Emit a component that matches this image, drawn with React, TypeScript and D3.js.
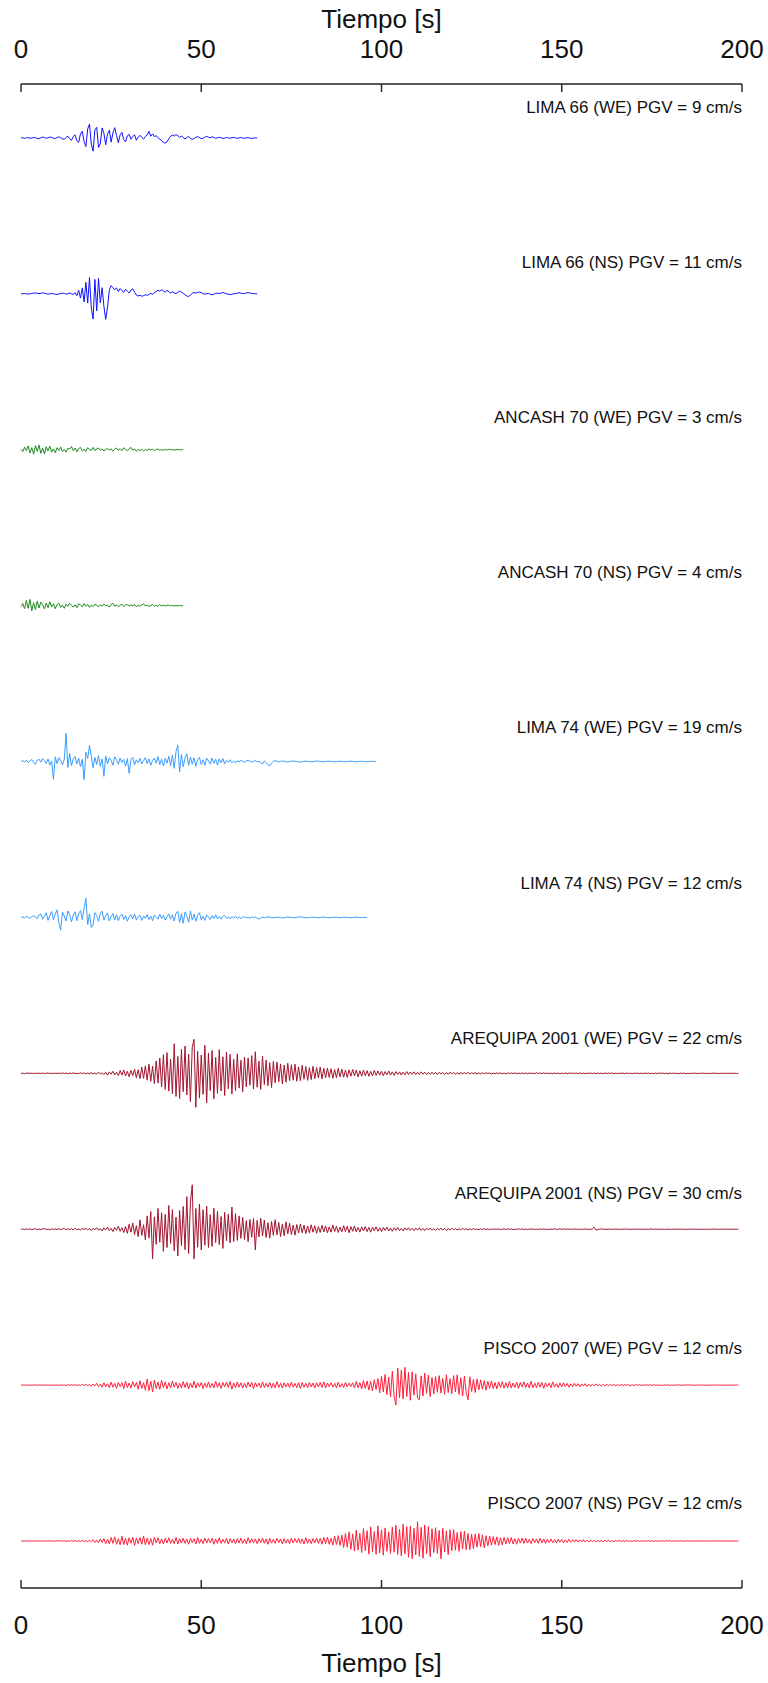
import React from 'react';
import * as d3 from 'd3';

// sampling step of every record, seconds
const DT = 0.5;

const TICKS = [0, 50, 100, 150, 200];
const TRACE_NAMES = [
  'LIMA 66 (WE)', 'LIMA 66 (NS)', 'ANCASH 70 (WE)', 'ANCASH 70 (NS)', 'LIMA 74 (WE)',
  'LIMA 74 (NS)', 'AREQUIPA 2001 (WE)', 'AREQUIPA 2001 (NS)', 'PISCO 2007 (WE)', 'PISCO 2007 (NS)',
];
const PGV = [9, 11, 3, 4, 19, 12, 22, 30, 12, 12];

// velocity records (cm/s)
const LIMA66_WE = [
  0, 0.2, -0.3, 0.1, 0.3, -0.2, 0, 0.4, 0.2, -0.3,
  -0.5, 0.1, 0.6, 0.3, -0.2, 0.2, 0.7, 0.4, -0.1, -0.4,
  0.3, 0.8, 0.2, -0.6, -0.9, 0.4, 1.2, -0.5, -1.6, 1.0,
  2.2, -1.8, -3.0, 2.8, 4.5, -2.4, -5.8, 6.1, 9.4, -4.2,
  -8.9, 5.5, 7.2, -6.4, -3.8, 6.8, 3.1, -4.5, 2.6, 5.2,
  -2.8, 3.4, 7.0, 1.8, -3.2, 2.1, 3.8, -1.2, -2.6, 1.5,
  2.4, -0.8, 0.9, 2.2, -1.5, 0.6, 1.8, 0.4, -0.7, 1.1,
  2.0, 4.6, 1.2, 2.8, 0.9, 1.6, 0.2, -0.8, -1.8, -2.9,
  -3.4, -2.6, -0.5, 1.2, 2.0, 1.4, 2.3, 1.6, 0.5, 1.2,
  0.4, -0.6, 0.3, 1.0, -0.2, -0.9, -0.4, 0.5, 0.9, 0.3,
  -0.4, -0.2, 0.6, 1.1, 0.5, 0.2, 0.8, 0.4, -0.2, 0.1,
  0.5, 0.2, -0.3, -0.1, 0.3, 0.1, -0.2, 0.2, 0.4, 0.1,
  -0.2, 0.1, 0.3, 0.0, -0.2, 0.1, 0.2, -0.1, -0.3, 0.0, 0.1, 0,
];
const LIMA66_NS = [
  0, 0.1, 0.2, 0.1, -0.1, 0, 0.3, 0.5, 0.6, 0.4,
  0.2, 0.4, 0.7, 0.5, 0.1, -0.2, 0, 0.3, 0.1, -0.3,
  -0.4, -0.1, 0.2, 0.5, 0.3, -0.2, 0.1, 0.6, 0.2, -0.5,
  0.8, -1.2, 2.4, -2.8, 4.0, -5.5, 7.8, -6.2, 11.0, -9.5,
  -17.0, 9.8, -11.5, 10.5, -6.0, 4.2, -8.5, -17.2, -9.0, 2.5,
  5.6, 4.2, 2.8, 4.0, 1.6, 3.6, 2.2, 1.0, 3.2, 1.8,
  0.6, 2.6, 3.4, 1.2, -0.8, -1.4, -0.9, -1.6, -1.2, -0.6,
  -1.0, -0.4, 0.3, -0.2, 0.8, 1.6, 2.5, 1.8, 2.8, 2.0,
  1.2, 2.4, 1.6, 0.6, 1.4, 0.8, 0.2, 1.1, 1.8, 1.2,
  0.3, -0.6, -1.4, -1.8, -0.8, 0.4, 0.9, 0.6, 1.0, 1.2,
  0.8, 0.2, -0.2, 0.1, 0.4, -0.3, -0.6, -0.2, 0.3, 0.5,
  0.2, 0.6, 0.9, 0.5, 0.1, -0.2, -0.5, -0.3, 0.1, 0.2,
  0.4, 0.8, 0.5, 0.2, 0.3, 0.6, 0.9, 0.6, 0.3, 0.1, 0.2, 0,
];
const ANCASH70_WE = [
  0.4, -1.2, 1.8, -0.6, 2.6, -2.2, 1.4, -3.0, 2.8, -1.0,
  3.2, -2.4, 1.2, -2.8, 2.0, -0.8, 2.4, -1.6, 0.6, -2.0,
  1.4, -0.4, 1.8, -1.2, 0.2, -1.6, 1.0, 0.4, 2.2, -0.6,
  1.2, -1.4, 0.8, 1.6, -0.8, 0.4, -1.2, 1.4, 0.2, -0.4,
  1.6, -0.6, 0.8, 1.2, -0.4, 0.6, -0.8, 0.2, 1.0, -0.2,
  0.6, -1.0, 0.4, 1.2, -0.4, 0.8, -0.6, 1.4, 0.2, -0.6,
  0.8, 1.6, -0.4, 0.6, -1.0, 0.2, -0.6, 0.4, -0.8, 0.2,
  -0.4, 0.6, -0.2, 0.4, -0.6, 0.2, 0.5, -0.3, 0.1, -0.4,
  0.3, -0.2, 0.4, -0.1, 0.2, -0.3, 0.1, 0.2, -0.1, 0.1,
  0,
];
const ANCASH70_NS = [
  -0.6, 1.4, -2.0, 3.6, -1.8, 4.2, -3.4, 2.0, -2.6, 3.0,
  -1.6, 2.4, 0.6, -2.2, 1.8, -1.4, 2.6, -0.8, 1.2, -2.0,
  0.8, 1.6, -1.2, 0.4, -1.8, 1.0, -0.4, 1.6, 0.2, -1.0,
  0.6, -1.4, 1.2, 0.4, -0.8, 1.4, -0.2, 0.8, -1.2, 0.4,
  -0.6, 1.0, 0.2, -0.8, 0.6, -0.4, 1.2, -0.2, 0.4, -1.0,
  0.8, 1.6, -0.4, 0.6, -0.8, 0.2, 1.0, -0.6, 0.4, 0.8,
  -0.4, 0.6, -0.2, 0.8, -0.6, 0.3, -0.4, 0.6, 1.2, -0.2,
  0.4, -0.6, 0.2, 0.8, -0.4, 0.3, -0.5, 0.6, -0.2, 0.4,
  -0.3, 0.2, 0.4, -0.2, 0.1, -0.3, 0.2, -0.1, 0.2, -0.1,
  0,
];
const LIMA74_WE = [
  0, 0.6, -0.4, 1.0, -0.8, 0.4, 1.4, -0.6, -1.8, 0.8,
  1.6, -0.4, 2.0, 0.6, -1.2, 1.8, -2.4, 0.4, -12.0, 3.2,
  -1.4, 2.6, 0.8, -2.2, 1.4, 19.0, -4.0, 5.6, -2.8, 1.8,
  3.4, -1.6, 2.2, -3.4, 1.6, -12.2, 6.4, 2.0, 11.0, 3.6,
  -4.2, 2.8, -2.0, 4.0, -3.2, 1.8, -10.0, 3.8, -1.6, 2.6,
  0.8, -2.4, 3.2, 1.2, -1.8, 2.4, -0.6, 1.6, -3.2, 2.0,
  -8.0, 1.4, 2.8, -2.2, 1.2, -0.8, 2.2, -1.6, 0.6, 2.6,
  -1.4, 1.8, -2.6, 0.8, 2.4, -1.2, 3.4, -2.0, 1.6, -3.0,
  2.2, -1.0, 3.6, -2.8, 4.4, -4.6, 6.8, 11.0, -7.0, 4.8,
  -3.6, 2.4, 5.2, -2.6, 3.0, -1.8, 2.6, -3.2, 1.4, 2.8,
  -2.0, 1.2, -2.6, 2.2, 0.6, -1.8, 2.4, -1.2, 1.6, -2.4,
  1.8, -0.8, 2.0, -1.6, 0.8, -0.4, 1.2, -0.8, 0.4, -1.0,
  0.6, -0.2, 0.8, 0.2, -0.6, 0.4, 0.9, 0.3, -0.4, 0.2,
  0.6, -0.3, 0.2, -0.8, -1.6, 0.4, -0.6, -2.2, -3.0, -1.0,
  0.2, 0.6, 0.3, -0.2, 0.1, 0.4, 0.2, -0.1, -0.3, 0,
  0.2, 0.4, 0.2, 0, -0.2, -0.3, -0.1, 0.1, 0.3, 0.2,
  0, -0.2, -0.1, 0.2, 0.4, 0.3, 0.1, -0.1, -0.2, 0,
  0.2, 0.3, 0.1, -0.1, -0.2, -0.1, 0.1, 0.2, 0.1, -0.1,
  -0.2, 0, 0.2, 0.3, 0.1, -0.1, -0.2, 0, 0.1, 0.2,
  0.1, -0.1, -0.2, 0, 0.1, 0.2, 0.1, 0,
];
const LIMA74_NS = [
  0, 0.4, -0.3, 0.8, 0.2, -0.6, 0.5, 1.2, 0.3, -0.8,
  1.6, 2.4, -1.2, 0.8, 3.2, -2.0, 1.4, 4.0, -1.6, 2.2,
  5.2, -3.4, -8.6, 3.6, 1.0, -2.4, 4.4, 2.0, -3.0, 1.6,
  3.8, -2.2, 2.6, 4.6, -1.4, 6.2, 13.0, -4.8, 2.4, -6.8,
  -5.2, 3.2, 1.4, -2.6, 2.8, 4.2, -1.8, 1.2, 3.0, -2.4,
  0.6, 2.6, -1.6, 1.8, -2.2, 0.8, 2.2, -1.4, 1.2, -2.6,
  0.4, 1.8, -1.0, 2.4, -1.8, 0.6, 1.4, -2.0, 1.0, -0.6,
  2.0, -1.4, 0.8, -2.2, 1.6, 0.4, -1.2, 2.2, -0.8, 1.4,
  -1.8, 0.6, 2.4, -1.2, 1.8, -2.4, 3.0, 4.2, -3.4, 2.6,
  -4.0, 3.6, 1.2, -3.2, 4.4, -1.8, 2.2, -2.6, 1.4, 3.2,
  -1.6, 0.8, -2.0, 1.6, 0.4, -1.4, 1.2, -0.8, 1.8, -1.0,
  0.6, -1.2, 0.8, 1.4, -0.6, 0.4, -1.0, 0.6, -0.4, 0.8,
  -0.6, 0.4, -0.8, 0.2, 0.6, -0.4, 0.2, -0.6, 0.4, -0.2,
  0.3, -0.5, -1.2, -0.4, 0.2, -0.3, 0.1, 0.4, 0.2, -0.1,
  -0.3, 0, 0.2, 0.1, -0.2, -0.4, -0.2, 0.1, 0.3, 0.2,
  0, -0.2, -0.1, 0.1, 0.3, 0.4, 0.2, 0, -0.2, -0.3,
  -0.1, 0.1, 0.2, 0.1, -0.1, -0.2, 0, 0.2, 0.3, 0.1,
  -0.1, -0.2, -0.1, 0.1, 0.2, 0.1, -0.1, -0.2, 0, 0.1,
  0.2, 0.1, -0.1, -0.2, -0.1, 0.1, 0.2, 0.1, 0, -0.1, 0.1, 0, 0,
];
const AREQUIPA01_WE = [
  0, 0.1, -0.2, 0.1, 0.2, -0.1, 0.1, -0.2, 0.2, -0.1,
  0.1, -0.1, 0.2, -0.2, 0.1, 0.2, -0.1, 0.1, -0.2, 0.1,
  -0.1, 0.2, -0.2, 0.3, -0.1, 0.2, -0.3, 0.2, -0.1, 0.3,
  -0.2, 0.1, -0.3, 0.4, -0.2, 0.3, -0.4, 0.2, -0.3, 0.5,
  -0.4, 0.3, -0.6, 0.8, -0.5, 0.4, -0.9, 0.7, -1.2, 1.0,
  -0.6, 1.4, -1.1, 0.8, -1.6, 1.9, -1.2, 2.2, -1.8, 1.4,
  -2.4, 2.0, -1.6, 2.8, -3.0, 2.4, -3.6, 4.2, -3.4, 5.0,
  -4.6, 6.2, -5.4, 4.8, -7.0, 8.4, -6.6, 10.4, -9.2, 12.6,
  -10.8, 14.0, -12.0, 9.6, -13.8, 20.0, -15.6, 11.4, -17.0, 16.2,
  -12.4, 18.4, -14.6, 13.0, -19.2, 17.6, 23.0, -23.0, 15.0, -16.8,
  12.4, -14.2, 19.0, -20.0, 13.6, -11.8, 15.4, -17.2, 10.8, -13.6,
  16.0, -12.0, 11.2, -15.0, 14.4, -10.4, 12.8, -14.0, 9.4, -11.6,
  13.2, -10.0, 8.8, -12.4, 11.0, -9.2, 10.4, -8.0, 12.0, -10.6,
  14.6, -9.4, 8.2, -10.8, 11.6, -7.6, 9.0, -8.4, 7.2, -9.6,
  8.0, -6.4, 7.6, -5.8, 6.4, -7.2, 5.6, -6.0, 6.8, -5.0,
  5.8, -4.6, 6.2, -5.4, 4.4, -5.0, 5.4, -4.0, 4.6, -4.8,
  3.8, -4.2, 4.8, -3.6, 4.0, -3.2, 4.2, -3.8, 3.4, -3.0,
  3.6, -2.8, 3.2, -3.4, 2.6, -3.0, 3.4, -2.4, 2.8, -2.6,
  2.2, -2.8, 2.4, -2.0, 2.6, -1.8, 2.2, -2.4, 1.8, -2.0,
  2.2, -1.6, 1.8, -2.0, 1.4, -1.8, 2.0, -1.4, 1.6, -1.2,
  1.4, -1.6, 1.2, -1.0, 1.6, -1.2, 1.0, -1.4, 1.2, -0.8,
  1.0, -1.2, 0.8, -1.0, 1.2, -0.8, 0.9, -0.7, 1.0, -0.9,
  0.7, -0.8, 1.0, -0.6, 0.8, -0.9, 0.6, -0.7, 0.8, -0.5,
  0.6, -0.8, 0.7, -0.5, 0.6, -0.7, 0.5, -0.6, 0.8, -0.4,
  0.5, -0.6, 0.4, -0.5, 0.6, -0.4, 0.5, -0.3, 0.6, -0.5,
  0.4, -0.3, 0.5, -0.4, 0.3, -0.5, 0.4, -0.3, 0.4, -0.2,
  0.3, -0.4, 0.2, -0.3, 0.4, -0.2, 0.3, -0.3, 0.2, -0.4,
  0.3, -0.2, 0.3, -0.2, 0.4, -0.3, 0.2, -0.3, 0.3, -0.2,
  0.2, -0.3, 0.3, -0.2, 0.2, -0.3, 0.4, -0.2, 0.3, -0.2,
  0.3, -0.2, 0.2, -0.3, 0.2, -0.2, 0.3, -0.2, 0.2, -0.3,
  0.2, -0.2, 0.3, -0.2, 0.2, -0.1, 0.3, -0.2, 0.2, -0.2,
  0.3, -0.2, 0.2, -0.3, 0.2, -0.1, 0.2, -0.2, 0.3, -0.2,
  0.2, -0.2, 0.1, -0.2, 0.3, -0.2, 0.2, -0.1, 0.2, -0.2,
  0.2, -0.3, 0.2, -0.1, 0.2, -0.2, 0.3, -0.2, 0.1, -0.2,
  0.2, -0.1, 0.2, -0.2, 0.2, -0.3, 0.2, -0.1, 0.2, -0.2,
  0.1, -0.2, 0.2, -0.2, 0.3, -0.1, 0.2, -0.2, 0.1, -0.2,
  0.2, -0.1, 0.2, -0.2, 0.1, -0.2, 0.2, -0.1, 0.2, -0.2,
  0.1, -0.2, 0.2, -0.1, 0.2, -0.2, 0.1, -0.1, 0.2, -0.1,
  0.1, -0.2, 0.1, -0.1, 0.2, -0.1, 0.1, -0.2, 0.1, -0.1,
  0.1, -0.1, 0.1, -0.1, 0.2, -0.1, 0.1, -0.1, 0,
];
const AREQUIPA01_NS = [
  0, 0.2, -0.2, 0.3, -0.1, 0.2, -0.3, 0.1, 0.3, -0.2,
  0.1, -0.3, 0.2, 0.4, -0.2, 0.1, -0.4, 0.3, -0.1, 0.2,
  -0.2, 0.4, -0.3, 0.2, 0.5, -0.4, 0.3, -0.2, 0.4, -0.5,
  0.6, -0.3, 0.2, -0.6, 0.5, -0.2, 0.7, -0.5, 0.3, -0.8,
  0.6, -0.4, 1.0, -0.7, 0.4, -1.2, 0.9, -0.5, 1.4, -1.0,
  0.6, -1.6, 1.2, -0.8, 2.0, -1.4, 1.0, -2.2, 1.8, -2.8,
  3.4, -2.0, 4.2, -3.6, 2.4, -5.0, 6.4, -4.2, 3.0, -7.2,
  9.0, -6.0, 12.0, -20.0, 8.4, -10.2, 14.0, -8.8, 11.2, -15.0,
  10.0, -12.4, 16.0, -9.6, 13.2, -14.6, 8.2, -18.0, 12.6, -11.0,
  15.4, -13.8, 22.0, -16.4, 18.2, 30.0, -20.0, 14.0, -12.2, 17.0,
  -14.0, 13.2, -10.8, 15.6, -12.4, 9.8, -11.6, 14.2, -9.0, 12.0,
  -10.4, 8.6, -13.0, 11.4, -7.8, 10.2, -9.2, 15.0, -8.4, 10.6,
  -7.6, 9.0, -6.2, 8.0, -7.0, 5.8, -8.4, 6.6, -5.4, 7.2,
  -14.0, 6.0, -5.2, 7.4, -4.6, 6.2, -5.6, 4.4, -6.0, 5.2,
  -4.2, 6.4, -3.8, 4.6, -5.0, 3.6, -4.4, 5.0, -3.2, 4.0,
  -3.6, 2.8, -4.0, 3.2, -2.6, 3.6, -2.4, 2.8, -3.0, 2.2,
  -2.6, 3.0, -2.0, 2.4, -2.8, 1.8, -2.2, 2.6, -1.8, 2.2,
  -2.4, 1.6, -2.0, 2.8, -1.6, 2.0, -2.2, 1.4, -1.8, 2.4,
  -1.6, 2.0, -2.4, 1.8, -1.4, 2.2, -1.8, 1.2, -2.0, 1.6,
  -1.2, 1.8, -1.6, 1.2, -2.0, 1.4, -1.0, 1.6, -1.4, 1.0,
  -1.6, 1.2, -0.8, 1.4, -1.2, 0.8, -1.4, 1.0, -0.8, 1.2,
  -1.0, 0.6, -1.2, 0.9, -0.6, 1.0, -0.8, 0.6, -1.0, 0.8,
  -0.6, 1.0, -0.8, 0.5, -0.9, 0.7, -0.5, 0.8, -0.7, 0.4,
  -0.8, 0.6, -0.4, 0.7, -0.6, 0.5, -0.7, 0.4, -0.5, 0.6,
  -0.4, 0.5, -0.6, 0.3, -0.4, 0.6, -0.3, 0.4, -0.5, 0.3,
  -0.4, 0.5, -0.3, 0.2, -0.4, 0.3, -0.2, 0.4, -0.3, 0.2,
  -0.3, 0.2, -0.2, 0.3, -0.1, 0.2, -0.3, 0.1, 0.2, -0.2,
  0.3, -0.1, 0.2, -0.3, 0.1, -0.2, 0.3, -0.1, 0.2, -0.2,
  0.1, -0.3, 0.2, -0.1, 0.3, -0.2, 0.1, -0.2, 0.2, -0.1,
  0.2, -0.2, 0.1, -0.3, 0.2, -0.1, 0.3, -0.2, 0.1, 0.2,
  -0.1, 0.3, -0.2, 0.2, -0.1, 0.2, -0.2, 0.3, -0.1, 0.1,
  -0.2, 0.2, -0.1, 0.3, -0.2, 0.1, -0.2, 0.2, 1.4, -0.6,
  -0.2, 0.1, 0.2, -0.1, 0.1, -0.2, 0.2, -0.1, 0.1, -0.1,
  0.2, -0.1, 0.1, -0.2, 0.1, 0.2, -0.1, 0.1, -0.2, 0.1,
  -0.1, 0.2, -0.1, 0.1, -0.1, 0.2, -0.2, 0.1, -0.1, 0.1,
  0.2, -0.1, 0.1, -0.1, 0.2, -0.2, 0.1, -0.1, 0.1, -0.1,
  0.1, -0.2, 0.1, -0.1, 0.2, -0.1, 0.1, -0.1, 0.1, -0.2,
  0.1, -0.1, 0.2, -0.1, 0.1, -0.1, 0.1, -0.2, 0.1, -0.1,
  0.1, -0.1, 0.1, -0.1, 0.2, -0.1, 0.1, -0.1, 0.1, -0.1,
  0.1, -0.1, 0.1, -0.1, 0.1, -0.1, 0.1, -0.1, 0,
];
const PISCO07_WE = [
  0, 0.1, -0.1, 0.2, -0.1, 0.1, -0.2, 0.1, 0.1, -0.1,
  0.2, -0.1, 0.1, -0.2, 0.2, -0.1, 0.1, -0.2, 0.2, -0.1,
  0.1, -0.2, 0.3, -0.2, 0.1, -0.3, 0.2, -0.1, 0.3, -0.2,
  0.4, -0.3, 0.2, -0.4, 0.5, -0.3, 0.6, -0.5, 0.4, -0.7,
  0.8, -0.6, 1.2, -1.0, 0.7, -1.4, 1.6, -1.1, 0.9, -1.8,
  2.0, -1.4, 1.2, -2.2, 1.8, -1.0, 1.6, -2.4, 2.6, -1.6,
  1.4, -2.0, 2.4, -1.2, 1.8, -2.8, 3.0, -2.2, 1.6, -3.4,
  4.2, -3.8, 2.6, -4.6, 3.4, -2.4, 2.0, -2.8, 3.2, -1.8,
  2.2, -2.6, 1.6, -2.0, 2.8, -1.4, 1.8, -2.2, 1.2, -1.8,
  2.4, -1.6, 2.0, -2.6, 1.4, -1.8, 2.6, -2.0, 1.6, -1.2,
  1.8, -2.4, 1.4, -1.6, 2.2, -1.8, 1.2, -2.0, 2.6, -1.4,
  1.6, -2.2, 1.8, -1.2, 2.0, -1.6, 2.4, -2.8, 1.4, -1.8,
  2.2, -1.4, 1.6, -2.0, 1.2, -1.6, 2.0, -1.2, 1.8, -2.4,
  1.6, -1.2, 1.4, -1.8, 2.2, -1.6, 1.2, -1.4, 1.8, -2.0,
  1.4, -1.8, 2.4, -1.6, 1.2, -2.0, 1.6, -1.2, 1.4, -1.6,
  2.0, -1.4, 1.2, -1.8, 1.6, -2.2, 1.8, -1.4, 1.2, -1.6,
  1.8, -1.2, 1.4, -2.0, 1.6, -1.2, 1.8, -1.6, 2.2, -1.8,
  1.4, -1.0, 1.6, -1.4, 1.2, -1.8, 2.0, -1.4, 1.0, -1.6,
  1.8, -1.2, 1.4, -1.0, 1.6, -2.0, 2.4, -1.8, 1.6, -2.6,
  3.0, -2.2, 2.8, -3.4, 2.6, -4.0, 3.6, -3.0, 4.4, -5.2,
  6.0, -4.6, 7.2, -6.4, 5.4, -8.0, 9.4, -7.2, -13.5, 11.5,
  -8.6, 10.0, -9.4, 12.0, -7.8, 8.6, -10.2, 9.0, -6.8, 7.6,
  -8.8, -10.0, 6.2, -7.4, 8.0, -5.6, 6.8, -7.8, 5.2, -6.0,
  5.8, -4.8, 6.4, -5.4, 4.6, -6.2, 7.0, -5.0, 4.4, -5.8,
  6.4, -4.6, 7.0, -6.2, 5.0, -7.4, 6.0, -4.8, -10.0, 5.6,
  -4.4, 3.8, -5.0, 4.2, -3.2, 3.6, -2.8, 3.0, -3.4, 2.6,
  -2.2, 2.8, -2.4, 1.8, -2.6, 2.2, -1.6, 2.4, -2.0, 1.6,
  -1.8, 2.4, -2.0, 1.4, -1.6, 2.0, -2.2, 1.8, -1.2, 2.2,
  -1.6, 1.4, -2.0, 2.6, -1.8, 1.2, -1.6, 2.0, -1.4, 1.8,
  -2.2, 1.6, -1.2, 1.4, -1.8, 2.2, -1.4, 1.0, -1.6, 1.4,
  -1.2, 1.6, -1.0, 1.2, -1.4, 0.8, -1.0, 1.2, -0.8, 1.0,
  -1.2, 0.8, -0.6, 1.0, -0.8, 0.6, -0.9, 0.7, -0.5, 0.8,
  -0.6, 0.5, -0.7, 0.4, -0.5, 0.6, -0.4, 0.5, -0.3, 0.4,
  -0.5, 0.3, -0.4, 0.5, -0.3, 0.4, -0.2, 0.3, -0.4, 0.2,
  -0.3, 0.4, -0.2, 0.3, -0.3, 0.2, -0.2, 0.3, -0.1, 0.2,
  -0.2, 0.3, -0.2, 0.2, -0.3, 0.1, -0.2, 0.2, -0.1, 0.2,
  -0.2, 0.1, -0.2, 0.2, -0.1, 0.2, -0.2, 0.1, -0.1, 0.2,
  -0.1, 0.2, -0.1, 0.1, -0.2, 0.1, -0.1, 0.2, -0.1, 0.1,
  -0.2, 0.1, -0.1, 0.1, -0.1, 0.2, -0.1, 0.1, -0.1, 0.1,
  -0.1, 0.1, -0.1, 0.1, -0.1, 0.1, -0.1, 0.1, 0,
];
const PISCO07_NS = [
  0, -0.1, 0.1, -0.1, 0.2, -0.1, 0.1, -0.1, 0.2, -0.2,
  0.1, -0.1, 0.2, -0.1, 0.1, -0.2, 0.2, -0.1, 0.1, -0.2,
  0.2, -0.1, 0.3, -0.2, 0.2, -0.3, 0.1, -0.2, 0.3, -0.2,
  0.3, -0.4, 0.2, -0.3, 0.5, -0.4, 0.3, -0.6, 0.5, -0.4,
  0.8, -1.0, 0.6, -1.2, 1.4, -0.9, 1.6, -1.8, 1.2, -2.0,
  2.4, -1.6, 2.8, -2.2, 1.6, -2.6, 3.2, -2.4, 1.8, -2.8,
  2.2, -1.6, 2.6, -3.0, 2.0, -1.8, 2.4, -2.2, 3.4, -2.6,
  2.0, -2.4, 1.6, -2.8, 2.6, -1.4, 2.2, -1.8, 1.4, -2.0,
  1.8, -1.4, 2.2, -1.6, 1.2, -1.8, 2.4, -2.0, 1.6, -1.4,
  2.0, -1.6, 1.4, -2.2, 1.8, -1.2, 1.6, -2.0, 2.4, -1.6,
  1.2, -1.8, 2.0, -1.4, 1.6, -1.2, 1.8, -2.2, 1.4, -1.6,
  2.2, -1.6, 1.2, -1.4, 1.8, -2.0, 1.6, -1.2, 1.4, -1.8,
  1.6, -1.4, 2.0, -1.6, 1.2, -1.8, 2.2, -1.4, 1.6, -1.2,
  1.4, -1.8, 1.6, -1.2, 2.0, -1.6, 1.4, -2.2, 1.8, -1.4,
  1.2, -1.6, 1.8, -1.2, 1.4, -2.0, 1.6, -1.4, 1.2, -1.8,
  2.0, -1.4, 1.6, -1.2, 1.8, -1.6, 1.4, -2.0, 2.2, -1.6,
  1.4, -1.8, 1.6, -1.2, 2.0, -1.6, 1.8, -2.2, 2.4, -1.8,
  2.6, -2.2, 1.8, -2.8, 3.2, -2.4, 3.6, -3.0, 4.0, -4.4,
  5.0, -4.2, 6.2, -5.6, 4.8, -6.8, 7.4, -6.0, 5.2, -7.8,
  8.4, -6.6, 7.0, -8.8, 9.6, -7.2, 6.4, -9.0, 10.2, -8.0,
  7.6, -9.6, 8.8, -7.0, 6.2, -8.4, 9.4, -7.6, 10.6, -9.0,
  8.0, -10.2, 11.4, -8.8, 9.6, -11.0, 10.0, -12.0, 8.6, -9.4,
  13.0, -10.4, 9.2, -11.6, 10.8, -8.6, 9.8, -10.6, 8.2, -7.8,
  9.0, -8.4, 7.2, -12.0, 8.6, -7.4, 6.8, -9.2, 7.6, -6.6,
  7.8, -6.2, 5.8, -7.0, 6.4, -5.4, 6.6, -6.0, 5.0, -5.8,
  4.6, -5.2, 4.8, -4.2, 5.0, -3.8, 4.2, -4.6, 3.6, -3.2,
  3.4, -2.8, 3.0, -2.4, 2.8, -3.0, 2.2, -2.6, 2.4, -2.0,
  2.2, -1.8, 2.4, -2.0, 1.6, -2.2, 1.8, -1.4, 2.0, -1.6,
  1.8, -1.4, 1.2, -1.8, 1.6, -1.2, 1.4, -1.6, 1.8, -1.2,
  1.4, -1.6, 1.2, -1.0, 1.4, -1.2, 1.0, -1.4, 1.2, -0.8,
  1.0, -1.2, 0.8, -1.0, 1.2, -0.8, 0.9, -0.7, 1.0, -0.8,
  0.8, -0.6, 0.9, -0.7, 0.6, -0.8, 0.7, -0.5, 0.6, -0.6,
  0.5, -0.6, 0.4, -0.5, 0.6, -0.4, 0.5, -0.4, 0.3, -0.5,
  0.4, -0.3, 0.5, -0.4, 0.3, -0.4, 0.4, -0.3, 0.2, -0.3,
  0.3, -0.2, 0.3, -0.3, 0.2, -0.3, 0.2, -0.2, 0.3, -0.2,
  0.2, -0.3, 0.2, -0.2, 0.1, -0.2, 0.2, -0.2, 0.3, -0.1,
  0.2, -0.2, 0.1, -0.2, 0.2, -0.1, 0.2, -0.2, 0.1, -0.1,
  0.2, -0.1, 0.1, -0.2, 0.1, -0.1, 0.2, -0.1, 0.1, -0.1,
  0.1, -0.2, 0.1, -0.1, 0.1, -0.1, 0.2, -0.1, 0.1, -0.1,
  0.1, -0.1, 0.1, -0.1, 0.1, -0.1, 0.1, -0.1, 0,
];

const SERIES = [
  LIMA66_WE, LIMA66_NS, ANCASH70_WE, ANCASH70_NS, LIMA74_WE,
  LIMA74_NS, AREQUIPA01_WE, AREQUIPA01_NS, PISCO07_WE, PISCO07_NS,
];

const COLORS = [
  '#1010ff', '#1010ff', '#1e8c1e', '#1e8c1e', '#3a9cff',
  '#3a9cff', '#a3142f', '#a3142f', '#ff1f3a', '#ff1f3a',
];

const W = 768;
const H = 1683;
const FONT = '"Liberation Sans", Arial, Helvetica, sans-serif';

export default function App() {
  const x = d3.scaleLinear().domain([0, 200]).range([21, 742]);
  // trace baselines and the label rows above them
  const row = d3.scalePoint<string>().domain(TRACE_NAMES).range([138, 1541]);
  const labelRow = d3.scalePoint<string>().domain(TRACE_NAMES).range([113, 1509]);
  // px per cm/s, shared by all records
  const amp = d3.scaleLinear().domain([0, 1]).range([0, -1.48]);

  const topAxis = 84;
  const bottomAxis = 1588;

  const axis = (y: number, dir: number) => (
    <g>
      <line x1={x(0)} x2={x(200)} y1={y} y2={y} stroke="#222" strokeWidth={1.6} />
      {TICKS.map((t) => (
        <line key={t} x1={x(t)} x2={x(t)} y1={y} y2={y + dir * 8} stroke="#222" strokeWidth={1.4} />
      ))}
    </g>
  );

  return (
    <svg width={W} height={H} style={{ position: 'absolute', left: 0, top: 0, background: '#fff' }} fontFamily={FONT}>
      <rect width={W} height={H} fill="#fff" />
      {axis(topAxis, 1)}
      {axis(bottomAxis, -1)}
      {TICKS.map((t) => (
        <g key={t} fontSize={26} fill="#111" textAnchor="middle">
          <text x={x(t)} y={58}>{t}</text>
          <text x={x(t)} y={1634}>{t}</text>
        </g>
      ))}
      <text x={x(100)} y={28} fontSize={26} textAnchor="middle" fill="#111">Tiempo [s]</text>
      <text x={x(100)} y={1672} fontSize={26} textAnchor="middle" fill="#111">Tiempo [s]</text>

      {SERIES.map((s, k) => {
        const base = row(TRACE_NAMES[k]) as number;
        const line = d3.line<number>()
          .x((_, i) => x(i * DT))
          .y((v) => base + amp(v));
        return (
          <g key={TRACE_NAMES[k]}>
            <path d={line(s) || ''} fill="none" stroke={COLORS[k]} strokeWidth={1} strokeLinejoin="round" />
            <text x={x(200)} y={labelRow(TRACE_NAMES[k])} fontSize={17} textAnchor="end" fill="#111">
              {`${TRACE_NAMES[k]} PGV = ${PGV[k]} cm/s`}
            </text>
          </g>
        );
      })}
    </svg>
  );
}
